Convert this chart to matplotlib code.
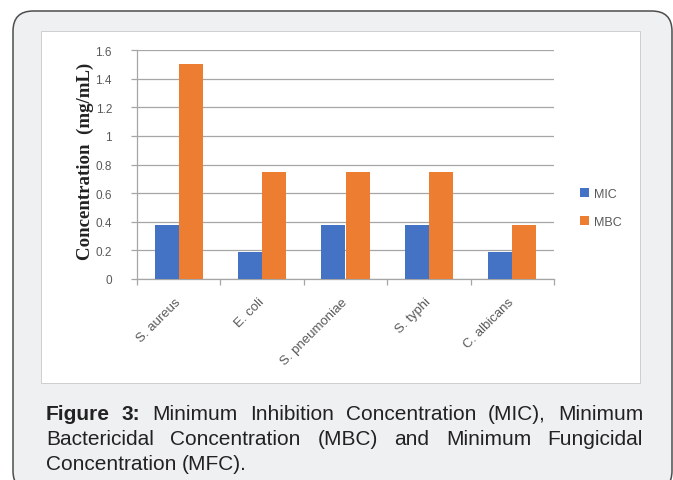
import numpy as np
import matplotlib
matplotlib.use("Agg")
import matplotlib.pyplot as plt
from matplotlib.patches import FancyBboxPatch, Rectangle, Patch

W, H = 673, 481

organisms = ["S. aureus", "E. coli", "S. pneumoniae", "S. typhi", "C. albicans"]
mic = [0.375, 0.1875, 0.375, 0.375, 0.1875]
mbc = [1.5, 0.75, 0.75, 0.75, 0.375]
yticks = [0, 0.2, 0.4, 0.6, 0.8, 1, 1.2, 1.4, 1.6]
ytick_labels = ["0", "0.2", "0.4", "0.6", "0.8", "1", "1.2", "1.4", "1.6"]

caption_bold = "Figure 3:"
caption_lines = [
    "Minimum Inhibition Concentration (MIC), Minimum",
    "Bactericidal Concentration (MBC) and Minimum Fungicidal",
    "Concentration (MFC).",
]

BLUE = "#4472C4"
ORANGE = "#ED7D31"
GRID = "#A6A6A6"
TICKTXT = "#595959"


def fx(x):
    return x / W


def fy(y):
    return 1 - y / H


fig = plt.figure(figsize=(W / 100, H / 100), dpi=100)
fig.patch.set_facecolor("white")

# grey card with rounded border
card = FancyBboxPatch(
    (fx(13), fy(492)), fx(672) - fx(13), fy(12) - fy(492),
    boxstyle="round,pad=0,rounding_size=0.03",
    transform=fig.transFigure, facecolor="#EFF0F2", edgecolor="#4D4D4D",
    linewidth=1.1, zorder=0, mutation_aspect=W / H,
)
fig.patches.append(card)

# white chart panel
panel = Rectangle(
    (fx(41), fy(384)), fx(640) - fx(41), fy(32) - fy(384),
    transform=fig.transFigure, facecolor="white", edgecolor="#C8C8C8",
    linewidth=0.6, zorder=1,
)
fig.patches.append(panel)

ax = fig.add_axes([fx(137), fy(280), fx(554) - fx(137), fy(51) - fy(280)])
ax.set_facecolor("none")
ax.set_zorder(2)

x = np.arange(len(organisms))
bw = 0.29
ax.bar(x - bw / 2, mic, bw, color=BLUE, zorder=3, label="MIC")
ax.bar(x + bw / 2, mbc, bw, color=ORANGE, zorder=3, label="MBC")

ax.set_xlim(-0.5, len(organisms) - 0.5)
ax.set_ylim(0, 1.6)
ax.set_yticks(yticks)
ax.set_yticklabels(ytick_labels, fontsize=8.5, color=TICKTXT, family="Liberation Sans")
ax.yaxis.grid(True, color=GRID, linewidth=0.9)
ax.set_axisbelow(True)

ax.set_xticks(x)
ax.set_xticklabels(organisms, rotation=45, ha="right", va="center",
                   rotation_mode="anchor", fontsize=9.5, color=TICKTXT,
                   family="Liberation Sans")
ax.tick_params(axis="x", length=0, pad=15)
ax.set_xticks(np.arange(len(organisms) + 1) - 0.5, minor=True)
ax.tick_params(axis="x", which="minor", length=4, color=GRID, width=0.9)
ax.tick_params(axis="y", length=4, color=GRID, width=0.9, pad=14)

for side in ["top", "right"]:
    ax.spines[side].set_visible(False)
for side in ["left", "bottom"]:
    ax.spines[side].set_color(GRID)
    ax.spines[side].set_linewidth(0.9)

fig.text(fx(85), fy(161), "Concentration  (mg/mL)", rotation=90,
         ha="center", va="center", fontsize=13.6, fontweight="bold",
         family="Liberation Serif", color="#222222")

handles = [Patch(facecolor=BLUE, label="MIC"), Patch(facecolor=ORANGE, label="MBC")]
fig.legend(handles=handles, loc="center left",
           bbox_to_anchor=(fx(569), fy(209)), frameon=False,
           handlelength=0.7, handleheight=0.7, handletextpad=0.4,
           labelspacing=1.3, prop={"family": "Liberation Sans", "size": 9},
           labelcolor=TICKTXT)

# justified caption
renderer = fig.canvas.get_renderer()
left, right = fx(46), fx(643)
cap_size = 15
baselines = [420, 445, 470]


def width_of(s, weight="normal"):
    t = fig.text(0, 0, s, fontsize=cap_size, family="Liberation Sans",
                 fontweight=weight)
    w = t.get_window_extent(renderer).width / W
    t.remove()
    return w


for i, line in enumerate(caption_lines):
    words = line.split()
    weights = ["normal"] * len(words)
    if i == 0:
        words = caption_bold.split() + words
        weights = ["bold", "bold"] + weights
    widths = [width_of(w, wt) for w, wt in zip(words, weights)]
    y = fy(baselines[i])
    if i < len(caption_lines) - 1:
        gap = (right - left - sum(widths)) / (len(words) - 1)
    else:
        gap = width_of("a b") - width_of("a") - width_of("b")
    xpos = left
    for w, wt, wd in zip(words, weights, widths):
        fig.text(xpos, y, w, fontsize=cap_size, family="Liberation Sans",
                 fontweight=wt, va="baseline", ha="left", color="#222222")
        xpos += wd + gap

fig.savefig("out.png", dpi=100)
